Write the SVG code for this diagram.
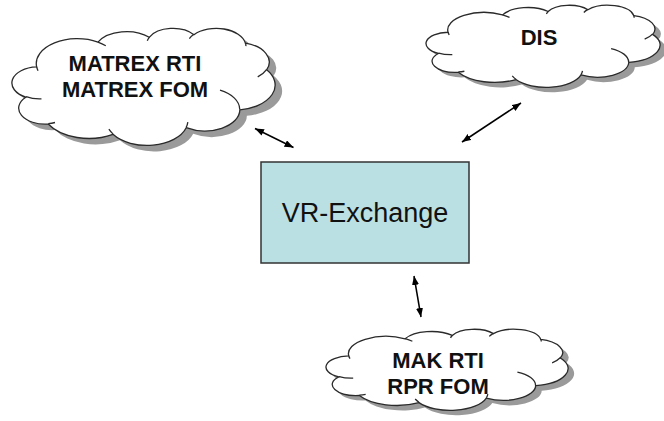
<svg xmlns="http://www.w3.org/2000/svg" xmlns:xlink="http://www.w3.org/1999/xlink" width="664" height="421" viewBox="0 0 664 421">
  <style>
    .shadow { fill: #9a9a9a; stroke: none; }
    .cloud { fill: #ffffff; stroke: #2a2a2a; stroke-width: 1.3; }
    .cloudline { fill: none; stroke: #2a2a2a; stroke-width: 1.3; }
    .label { font-family: "Liberation Sans", Arial, sans-serif; font-weight: bold; font-size: 22px; fill: #111; text-anchor: middle; }
    .title { font-family: "Liberation Sans", Arial, sans-serif; font-size: 27px; fill: #111; text-anchor: middle; }
    .conn { stroke: #000; stroke-width: 1.5; fill: none; marker-start: url(#arr); marker-end: url(#arr); }
  </style>
  <defs>
    <path id="cloudShape" vector-effect="non-scaling-stroke" d="M3900 14370 A6753 9190 0 0 1 14006 5202 A5333 7267 0 0 1 22457 3433 A4365 5945 0 0 1 29833 2480 A4857 6595 0 0 1 38318 5575 A5333 7273 0 0 1 41819 15458 A6775 9220 0 0 1 37406 30204 A5785 7867 0 0 1 28558 36814 A6752 9215 0 0 1 16483 39266 A7720 10543 0 0 1 5807 35471 A4360 5918 0 0 1 2115 25549 A4345 5945 0 0 1 3900 14370 Z"/>
    <path id="cloudLines" vector-effect="non-scaling-stroke" d="M4693 26177 A4345 5945 0 0 1 2160 25380 M6928 34899 A4360 5918 0 0 1 5820 35281 M16478 39090 A6752 9215 0 0 1 15809 37349 M28827 34751 A6752 9215 0 0 1 28560 36660 M34129 22954 A5785 7867 0 0 1 37380 30090 M41798 15354 A5333 7273 0 0 1 40350 18030 M38324 5426 A4857 6595 0 0 1 38401 6690 M29078 3952 A4857 6595 0 0 1 29820 2339 M22141 4720 A4365 5945 0 0 1 22490 3358 M14000 5192 A6753 9190 0 0 1 15300 6541 M4127 15789 A6753 9190 0 0 1 3900 14371"/>
    <marker id="arr" markerUnits="userSpaceOnUse" markerWidth="10" markerHeight="8" refX="9" refY="3.5" orient="auto-start-reverse">
      <path d="M0 0 L9 3.5 L0 7 Z" fill="#000"/>
    </marker>
  </defs>

  <g id="cloud-matrex">
    <use xlink:href="#cloudShape" class="shadow" transform="translate(20,34) scale(0.006065,0.002708)"/>
    <use xlink:href="#cloudShape" class="cloud" transform="translate(13,28) scale(0.006065,0.002708)"/>
    <use xlink:href="#cloudLines" class="cloudline" transform="translate(13,28) scale(0.006065,0.002708)"/>
    <text class="label" x="135" y="71">MATREX RTI</text>
    <text class="label" x="135" y="97">MATREX FOM</text>
  </g>

  <g id="cloud-dis">
    <use xlink:href="#cloudShape" class="shadow" transform="translate(433,10) scale(0.005394,0.001898)"/>
    <use xlink:href="#cloudShape" class="cloud" transform="translate(427,5) scale(0.005394,0.001898)"/>
    <use xlink:href="#cloudLines" class="cloudline" transform="translate(427,5) scale(0.005394,0.001898)"/>
    <text class="label" x="539" y="45">DIS</text>
  </g>

  <g id="cloud-mak">
    <use xlink:href="#cloudShape" class="shadow" transform="translate(333,334) scale(0.005579,0.001875)"/>
    <use xlink:href="#cloudShape" class="cloud" transform="translate(327,329) scale(0.005579,0.001875)"/>
    <use xlink:href="#cloudLines" class="cloudline" transform="translate(327,329) scale(0.005579,0.001875)"/>
    <text class="label" x="438" y="368">MAK RTI</text>
    <text class="label" x="438" y="394">RPR FOM</text>
  </g>

  <g id="vr-exchange">
    <rect x="261" y="162" width="208" height="101" fill="#bbe0e3" stroke="#333" stroke-width="1.5"/>
    <text class="title" x="365" y="222">VR-Exchange</text>
  </g>

  <g id="connectors">
    <line class="conn" x1="255" y1="128.5" x2="293.5" y2="147.5"/>
    <line class="conn" x1="462" y1="142" x2="521" y2="103"/>
    <line class="conn" x1="414" y1="276" x2="421" y2="317"/>
  </g>
</svg>
